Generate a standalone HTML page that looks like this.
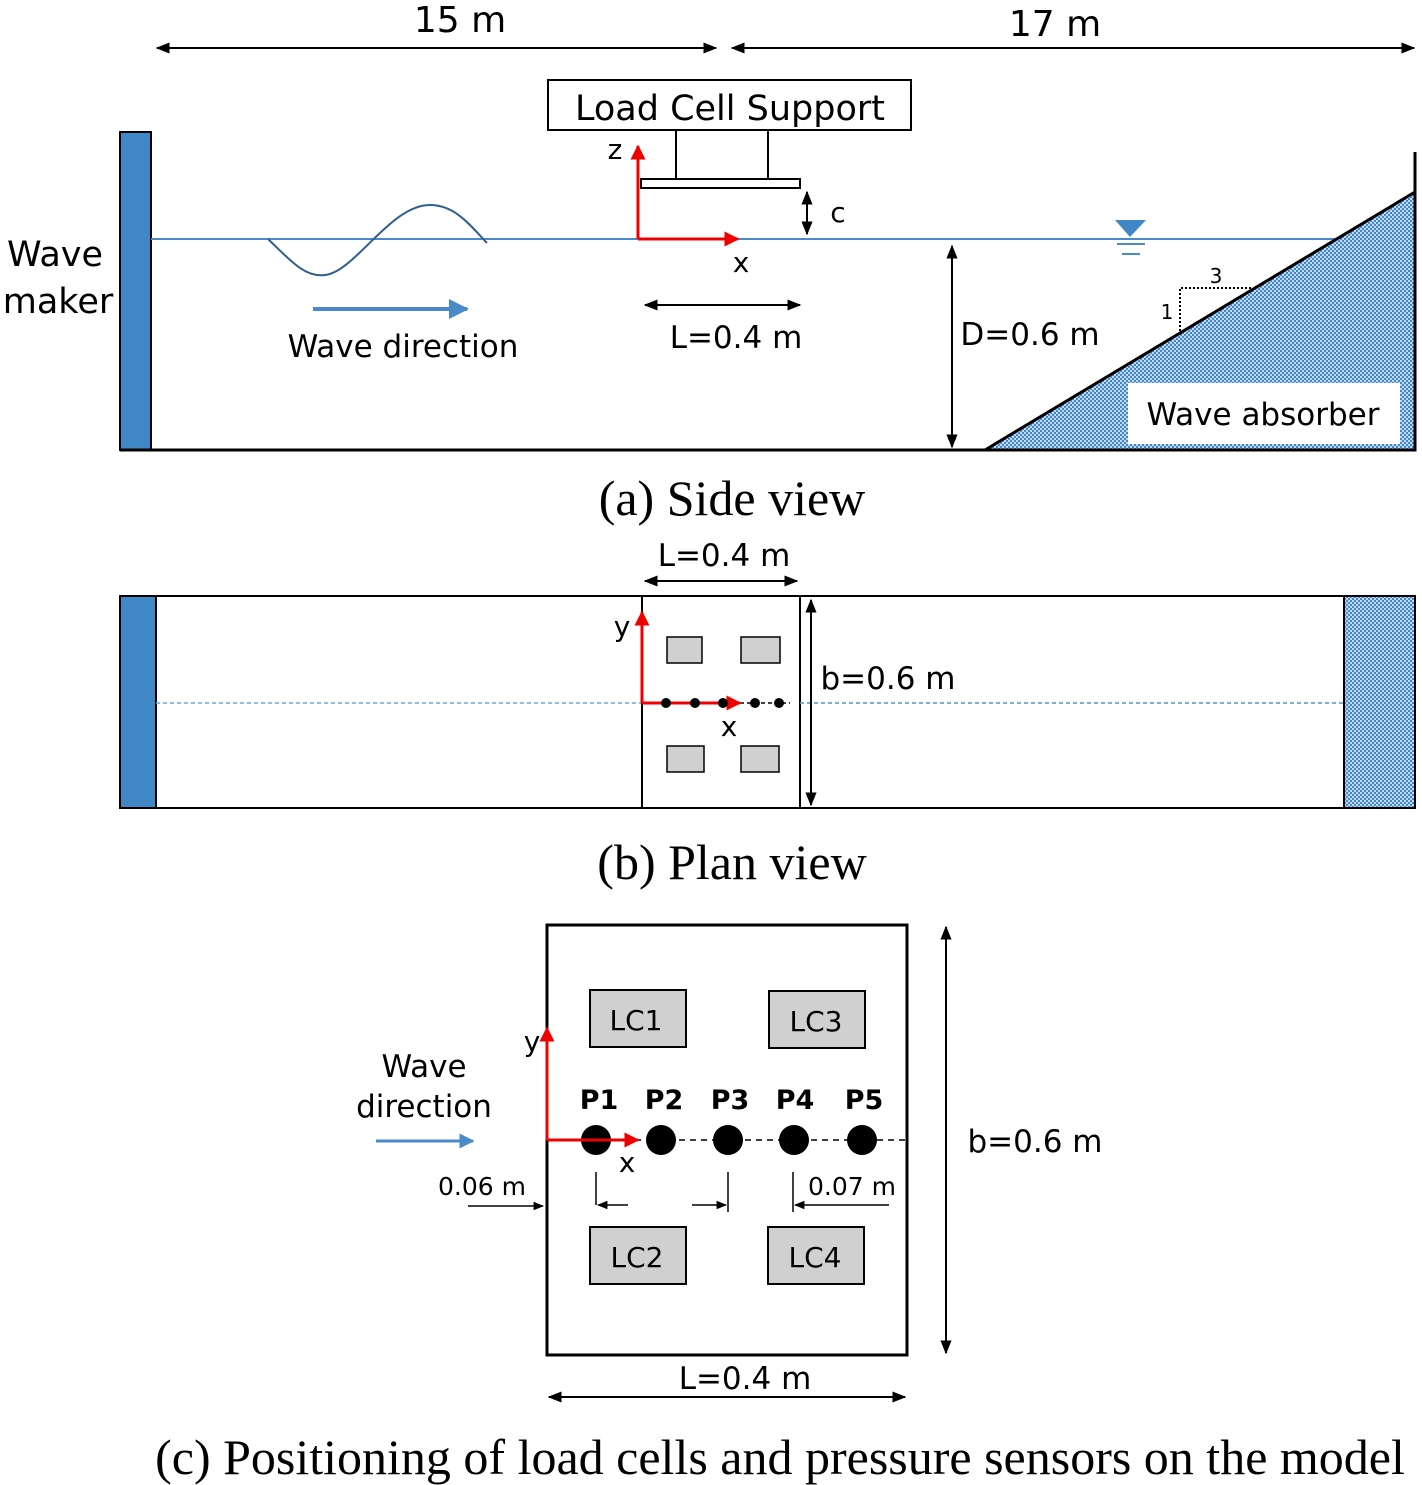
<!DOCTYPE html>
<html><head><meta charset="utf-8"><style>body{margin:0;background:#fff}svg{display:block}</style></head><body>
<svg width="1422" height="1485" viewBox="0 0 1422 1485" xmlns="http://www.w3.org/2000/svg" font-family="'DejaVu Sans','Liberation Sans',sans-serif">
<defs>
<marker id="ah" viewBox="0 0 10 10" refX="9" refY="5" markerWidth="7" markerHeight="7" orient="auto-start-reverse"><path d="M0,1 L10,5 L0,9z" fill="#000"/></marker>
<marker id="ar" viewBox="0 0 10 10" refX="9" refY="5" markerWidth="5" markerHeight="5" orient="auto"><path d="M0,0 L10,5 L0,10z" fill="#e00"/></marker>
<marker id="ab" viewBox="0 0 10 10" refX="9" refY="5" markerWidth="5" markerHeight="5" orient="auto"><path d="M0,0 L10,5 L0,10z" fill="#4a8ac8"/></marker>
<pattern id="pt" width="4" height="4" patternUnits="userSpaceOnUse"><rect width="4" height="4" fill="#3f86cb"/><rect width="2" height="2" fill="#c4daf0"/><rect x="2" y="2" width="2" height="2" fill="#c4daf0"/></pattern>
</defs>
<g stroke="#000" stroke-width="2" fill="none">
<line x1="157" y1="48" x2="716" y2="48" marker-start="url(#ah)" marker-end="url(#ah)"/>
<line x1="732" y1="48" x2="1414" y2="48" marker-start="url(#ah)" marker-end="url(#ah)"/>
</g>
<g font-size="36" text-anchor="middle">
<text x="460" y="32">15 m</text><text x="1055" y="36">17 m</text>
</g>
<rect x="548" y="80" width="363" height="50" fill="#fff" stroke="#000" stroke-width="2"/>
<text x="730" y="120" font-size="35" text-anchor="middle">Load Cell Support</text>
<line x1="676" y1="130" x2="676" y2="179" stroke="#000" stroke-width="2"/>
<line x1="768" y1="130" x2="768" y2="179" stroke="#000" stroke-width="2"/>
<rect x="641" y="179" width="159" height="9" fill="#fff" stroke="#000" stroke-width="2"/>
<rect x="120" y="132" width="31" height="318" fill="#3f88c5" stroke="#000" stroke-width="2"/>
<line x1="151" y1="239" x2="1340" y2="239" stroke="#4a8ac8" stroke-width="2"/>
<polygon points="985,450 1415,192 1415,450" fill="url(#pt)" stroke="#000" stroke-width="3"/>
<line x1="120" y1="450" x2="1415" y2="450" stroke="#000" stroke-width="3"/>
<line x1="1415" y1="152" x2="1415" y2="450" stroke="#000" stroke-width="3"/>
<rect x="1128" y="383" width="272" height="61" fill="#fff"/>
<text x="1263" y="425" font-size="31" text-anchor="middle">Wave absorber</text>
<path d="M268,239 C290,260 305,278 325,275 C355,272 390,205 430,205 C455,205 470,225 487,243" fill="none" stroke="#2e5f8f" stroke-width="2"/>
<line x1="313" y1="309" x2="467" y2="309" stroke="#4a8ac8" stroke-width="4" marker-end="url(#ab)"/>
<text x="403" y="357" font-size="31" text-anchor="middle">Wave direction</text>
<line x1="638" y1="239" x2="638" y2="146" stroke="#e00" stroke-width="3" marker-end="url(#ar)"/>
<line x1="638" y1="239" x2="738" y2="239" stroke="#e00" stroke-width="3" marker-end="url(#ar)"/>
<text x="615" y="159" font-size="28" text-anchor="middle">z</text>
<text x="741" y="272" font-size="28" text-anchor="middle">x</text>
<line x1="807" y1="192" x2="807" y2="234" stroke="#000" stroke-width="2" marker-start="url(#ah)" marker-end="url(#ah)"/>
<text x="838" y="222" font-size="28" text-anchor="middle">c</text>
<line x1="645" y1="305" x2="800" y2="305" stroke="#000" stroke-width="2" marker-start="url(#ah)" marker-end="url(#ah)"/>
<text x="736" y="348" font-size="31" text-anchor="middle">L=0.4 m</text>
<line x1="952" y1="246" x2="952" y2="447" stroke="#000" stroke-width="2" marker-start="url(#ah)" marker-end="url(#ah)"/>
<text x="1030" y="345" font-size="31" text-anchor="middle">D=0.6 m</text>
<text x="55" y="266" font-size="35" text-anchor="middle">Wave</text>
<text x="58" y="313" font-size="35" text-anchor="middle">maker</text>
<polygon points="1115,220 1146,220 1130,237" fill="#3f88c5"/>
<line x1="1117" y1="244" x2="1145" y2="244" stroke="#4a8ac8" stroke-width="2"/>
<line x1="1122" y1="254" x2="1140" y2="254" stroke="#4a8ac8" stroke-width="2"/>
<path d="M1180,331 L1180,288 L1252,288" fill="none" stroke="#000" stroke-width="2" stroke-dasharray="2,2"/>
<text x="1167" y="319" font-size="20" text-anchor="middle">1</text>
<text x="1216" y="283" font-size="20" text-anchor="middle">3</text>
<text x="732" y="515" font-size="50" text-anchor="middle" font-family="'Liberation Serif',serif">(a) Side view</text>

<rect x="120" y="596" width="1295" height="212" fill="#fff" stroke="#000" stroke-width="2"/>
<rect x="120" y="596" width="36" height="212" fill="#3f88c5" stroke="#000" stroke-width="2"/>
<rect x="1344" y="596" width="71" height="212" fill="url(#pt)" stroke="#000" stroke-width="2"/>
<line x1="156" y1="703" x2="1344" y2="703" stroke="#6fa3d8" stroke-width="1.5" stroke-dasharray="4,3"/>
<rect x="642" y="596" width="158" height="212" fill="#fff" stroke="#000" stroke-width="2"/>
<line x1="800" y1="703" x2="1344" y2="703" stroke="#6fa3d8" stroke-width="1.5" stroke-dasharray="4,3"/>
<g fill="#d0d0d0" stroke="#000" stroke-width="1.5">
<rect x="667" y="637" width="35" height="26"/><rect x="741" y="637" width="39" height="26"/>
<rect x="667" y="746" width="37" height="26"/><rect x="741" y="746" width="38" height="26"/>
</g>
<line x1="642" y1="703" x2="790" y2="703" stroke="#000" stroke-width="1.5" stroke-dasharray="4,3"/>
<line x1="642" y1="703" x2="642" y2="612" stroke="#e00" stroke-width="3" marker-end="url(#ar)"/>
<line x1="642" y1="703" x2="740" y2="703" stroke="#e00" stroke-width="3" marker-end="url(#ar)"/>
<g fill="#000"><circle cx="666" cy="703" r="5"/><circle cx="695" cy="703" r="5"/><circle cx="723" cy="703" r="5"/><circle cx="755" cy="703" r="5"/><circle cx="779" cy="703" r="5"/></g>
<text x="622" y="636" font-size="28" text-anchor="middle">y</text>
<text x="729" y="736" font-size="28" text-anchor="middle">x</text>
<line x1="645" y1="581" x2="797" y2="581" stroke="#000" stroke-width="2" marker-start="url(#ah)" marker-end="url(#ah)"/>
<text x="724" y="566" font-size="31" text-anchor="middle">L=0.4 m</text>
<line x1="811" y1="600" x2="811" y2="805" stroke="#000" stroke-width="2" marker-start="url(#ah)" marker-end="url(#ah)"/>
<text x="888" y="689" font-size="31" text-anchor="middle">b=0.6 m</text>
<text x="732" y="879" font-size="50" text-anchor="middle" font-family="'Liberation Serif',serif">(b) Plan view</text>

<rect x="547" y="925" width="360" height="430" fill="#fff" stroke="#000" stroke-width="3"/>
<g fill="#d0d0d0" stroke="#000" stroke-width="2">
<rect x="590" y="990" width="96" height="57"/><rect x="769" y="991" width="96" height="57"/>
<rect x="590" y="1227" width="96" height="57"/><rect x="768" y="1227" width="96" height="57"/>
</g>
<g font-size="28" text-anchor="middle">
<text x="636" y="1030">LC1</text><text x="816" y="1031">LC3</text>
<text x="637" y="1267">LC2</text><text x="815" y="1267">LC4</text>
</g>
<line x1="547" y1="1140" x2="907" y2="1140" stroke="#000" stroke-width="1.5" stroke-dasharray="6,5"/>
<g fill="#000"><circle cx="596" cy="1140" r="15"/><circle cx="661" cy="1140" r="15"/><circle cx="728" cy="1140" r="15"/><circle cx="794" cy="1140" r="15"/><circle cx="862" cy="1140" r="15"/></g>
<g font-size="27" font-weight="bold" text-anchor="middle">
<text x="599" y="1109">P1</text><text x="664" y="1109">P2</text><text x="730" y="1109">P3</text><text x="795" y="1109">P4</text><text x="864" y="1109">P5</text>
</g>
<line x1="547" y1="1140" x2="547" y2="1028" stroke="#e00" stroke-width="3" marker-end="url(#ar)"/>
<line x1="547" y1="1140" x2="638" y2="1140" stroke="#e00" stroke-width="3" marker-end="url(#ar)"/>
<text x="532" y="1051" font-size="28" text-anchor="middle">y</text>
<text x="627" y="1172" font-size="28" text-anchor="middle">x</text>
<text x="424" y="1077" font-size="31" text-anchor="middle">Wave</text>
<text x="424" y="1117" font-size="31" text-anchor="middle">direction</text>
<line x1="376" y1="1141" x2="473" y2="1141" stroke="#4a8ac8" stroke-width="3" marker-end="url(#ab)"/>
<text x="482" y="1195" font-size="25" text-anchor="middle">0.06 m</text>
<text x="852" y="1195" font-size="25" text-anchor="middle">0.07 m</text>
<g stroke="#000" stroke-width="1.5">
<line x1="468" y1="1206" x2="543" y2="1206" marker-end="url(#ah)"/>
<line x1="596" y1="1172" x2="596" y2="1205"/>
<line x1="628" y1="1205" x2="598" y2="1205" marker-end="url(#ah)"/>
<line x1="692" y1="1205" x2="726" y2="1205" marker-end="url(#ah)"/>
<line x1="728" y1="1172" x2="728" y2="1212"/>
<line x1="793" y1="1172" x2="793" y2="1212"/>
<line x1="889" y1="1205" x2="795" y2="1205" marker-end="url(#ah)"/>
</g>
<line x1="946" y1="927" x2="946" y2="1353" stroke="#000" stroke-width="2" marker-start="url(#ah)" marker-end="url(#ah)"/>
<text x="1035" y="1152" font-size="31" text-anchor="middle">b=0.6 m</text>
<line x1="549" y1="1397" x2="905" y2="1397" stroke="#000" stroke-width="2" marker-start="url(#ah)" marker-end="url(#ah)"/>
<text x="745" y="1389" font-size="31" text-anchor="middle">L=0.4 m</text>
<text x="780" y="1474" font-size="50" text-anchor="middle" font-family="'Liberation Serif',serif">(c) Positioning of load cells and pressure sensors on the model</text>
</svg>
</body></html>
